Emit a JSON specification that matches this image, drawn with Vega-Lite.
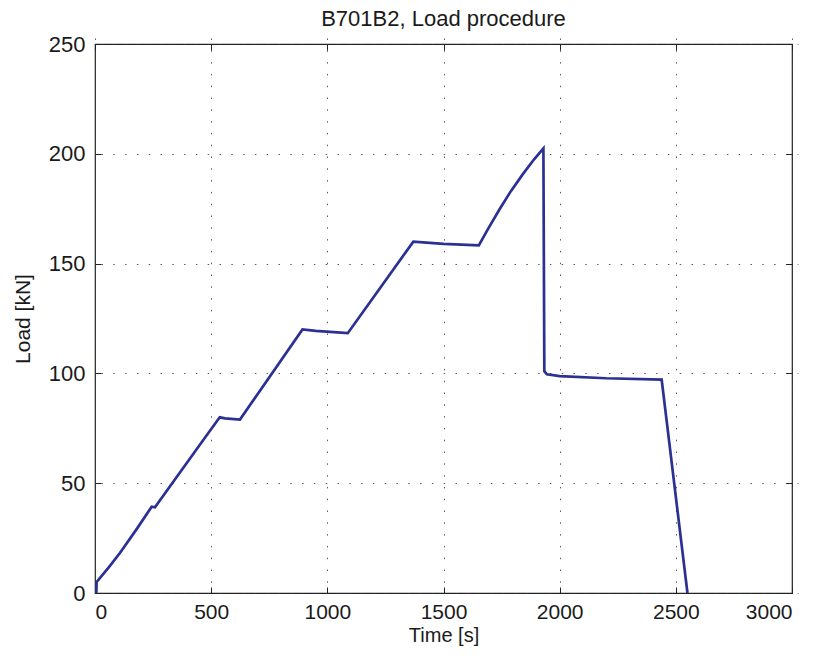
{
  "$schema": "https://vega.github.io/schema/vega-lite/v6.json",
  "width": 697,
  "height": 549,
  "autosize": {"type": "none"},
  "padding": {"left": 95, "top": 44, "right": 28, "bottom": 67},
  "background": "white",
  "title": {"text": "B701B2, Load procedure", "font": "Liberation Sans", "fontSize": 22, "fontWeight": "normal", "color": "#1a1a1a", "offset": 2},
  "data": {"values": [
    {"t": 0, "load": 0},
    {"t": 6, "load": 0.5},
    {"t": 7, "load": 5.1},
    {"t": 12, "load": 5.6},
    {"t": 60, "load": 11.8},
    {"t": 108, "load": 18.3},
    {"t": 180, "load": 29.2},
    {"t": 244, "load": 39.3},
    {"t": 258, "load": 39.0},
    {"t": 262, "load": 39.6},
    {"t": 466, "load": 69.7},
    {"t": 537, "load": 80.0},
    {"t": 560, "load": 79.5},
    {"t": 624, "load": 79.0},
    {"t": 893, "load": 120.0},
    {"t": 950, "load": 119.4},
    {"t": 1088, "load": 118.3},
    {"t": 1370, "load": 160.0},
    {"t": 1500, "load": 159.0},
    {"t": 1652, "load": 158.3},
    {"t": 1690, "load": 165.5},
    {"t": 1740, "load": 174.5},
    {"t": 1790, "load": 183.0},
    {"t": 1840, "load": 190.5},
    {"t": 1890, "load": 197.5},
    {"t": 1930, "load": 202.5},
    {"t": 1934, "load": 101.0},
    {"t": 1945, "load": 99.6},
    {"t": 2000, "load": 98.8},
    {"t": 2200, "load": 97.8},
    {"t": 2439, "load": 97.2},
    {"t": 2550, "load": 0}
  ]},
  "layer": [
    {
      "mark": {"type": "line", "color": "#2B3092", "strokeWidth": 2.7, "clip": true},
      "encoding": {
        "x": {"field": "t", "type": "quantitative", "scale": {"domain": [0, 3000], "nice": false, "zero": false},
          "axis": {"orient": "bottom", "title": "Time [s]", "format": "d", "values": [0, 500, 1000, 1500, 2000, 2500, 3000], "grid": true, "labelFontSize": 21, "labelPadding": 8, "titlePadding": 3}},
        "y": {"field": "load", "type": "quantitative", "scale": {"domain": [0, 250], "nice": false},
          "axis": {"orient": "left", "title": "Load [kN]", "titleFontSize": 21, "format": "d", "values": [0, 50, 100, 150, 200, 250], "grid": true, "labelPadding": 10, "titlePadding": 15}}
      }
    },
    {
      "mark": {"type": "line", "opacity": 0},
      "encoding": {
        "x": {"field": "t", "type": "quantitative", "axis": {"orient": "top", "title": null, "labels": false, "grid": false, "values": [0, 500, 1000, 1500, 2000, 2500, 3000]}},
        "y": {"field": "load", "type": "quantitative", "axis": {"orient": "right", "title": null, "labels": false, "grid": false, "values": [0, 50, 100, 150, 200, 250]}}
      }
    }
  ],
  "resolve": {"axis": {"x": "independent", "y": "independent"}},
  "config": {
    "view": {"stroke": "#222222", "strokeWidth": 1.2},
    "axis": {
      "domain": false,
      "offset": -6,
      "tickColor": "#222222",
      "tickSize": 6,
      "tickWidth": 1,
      "labelFont": "Liberation Sans",
      "labelFontSize": 22,
      "labelColor": "#1a1a1a",
      "titleFont": "Liberation Sans",
      "titleFontSize": 20,
      "titleFontWeight": "normal",
      "titleColor": "#1a1a1a",
      "gridColor": "#333333",
      "gridDash": [1.5, 10.3],
      "gridWidth": 1,
      "gridOpacity": 0.8
    }
  }
}
